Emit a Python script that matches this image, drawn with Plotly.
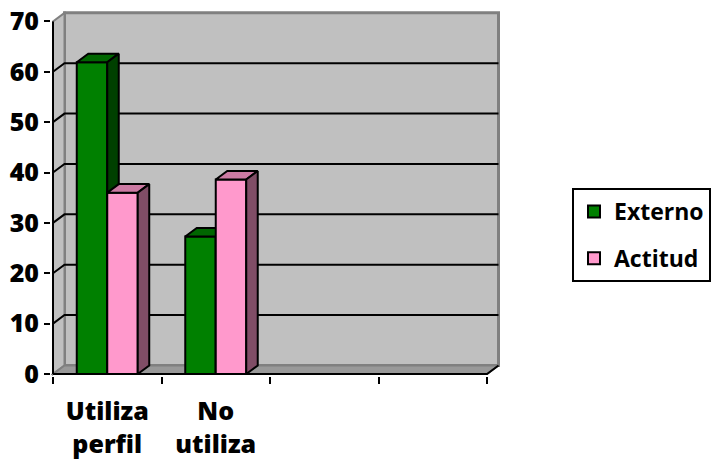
import plotly.graph_objects as go

# ---- data ----
categories = ["Utiliza perfil", "No utiliza", "", ""]
tick_labels = ["Utiliza<br>perfil", "No<br>utiliza", "", ""]
externo = [61.9, 27.3, None, None]
actitud = [36.0, 38.6, None, None]
y_ticks = [0, 10, 20, 30, 40, 50, 60, 70]

# ---- style / geometry ----
FONT = dict(family="Open Sans", size=25, color="black", weight=800)
LEGEND_FONT = dict(family="Open Sans", size=23, color="black", weight=700)
DEPTH_X = 0.106          # depth offset of the 3-D box, category units
DEPTH_Y = 1.7            # depth offset of the 3-D box, value units
BAR_W = 0.281            # width of one bar, category units
WALL = "#c0c0c0"
WALL_EDGE = "#808080"
FLOOR = "#999999"
GREEN = dict(front="#008000", top="#006600", side="#004000")
PINK = dict(front="#ff99cc", top="#cc7aa3", side="#804d66")

W, H = 712, 466
M_L, M_R, M_T, M_B = 51, 212, 11, 90
PX_X, PX_Y = 108.5, 5.037  # pixels per unit on each axis
plot_w = W - M_L - M_R
plot_h = H - M_T - M_B
x_range = [-2 / PX_X, (plot_w - 2) / PX_X]
y_range = [-2 / PX_Y, (plot_h - 2) / PX_Y]

n_cat = len(categories)
centers = [i + 0.5 for i in range(n_cat)]
y_max = y_ticks[-1]


def faces(values, offset):
    """Top and side faces of the 3-D columns, as closed polygons."""
    tx, ty, sx, sy = [], [], [], []
    for c, v in zip(centers, values):
        if v is None:
            continue
        xl = c + offset
        xr = xl + BAR_W
        tx += [xl, xr, xr + DEPTH_X, xl + DEPTH_X, xl, None]
        ty += [v, v, v + DEPTH_Y, v + DEPTH_Y, v, None]
        sx += [xr, xr, xr + DEPTH_X, xr + DEPTH_X, xr, None]
        sy += [0, v, v + DEPTH_Y, DEPTH_Y, 0, None]
    return (tx, ty), (sx, sy)


fig = go.Figure()


def add_series(name, values, offset, colors, xa, ya, group):
    fig.add_trace(go.Bar(
        x=centers, y=values, width=BAR_W, offset=offset, name=name,
        marker=dict(color=colors["front"], line=dict(color="black", width=2)),
        xaxis=xa, yaxis=ya, legendgroup=group,
    ))
    (tx, ty), (sx, sy) = faces(values, offset)
    for (px, py), col in (((tx, ty), colors["top"]), ((sx, sy), colors["side"])):
        fig.add_trace(go.Scatter(
            x=px, y=py, mode="lines", fill="toself", fillcolor=col,
            line=dict(color="black", width=2), showlegend=False,
            hoverinfo="skip", xaxis=xa, yaxis=ya, legendgroup=group,
        ))


# Externo on the base subplot, Actitud on an overlay so it sits in front
add_series("Externo", externo, -BAR_W, GREEN, "x", "y", "g1")
add_series("Actitud", actitud, 0.0, PINK, "x2", "y2", "g2")

# ---- 3-D box: back wall, side wall, floor, gridlines ----
shapes = []
x_end = n_cat
shapes.append(dict(type="rect", xref="x", yref="y", layer="below",
                   x0=DEPTH_X, x1=x_end + DEPTH_X, y0=DEPTH_Y, y1=y_max + DEPTH_Y,
                   fillcolor=WALL, line=dict(color=WALL_EDGE, width=3)))
shapes.append(dict(type="path", xref="x", yref="y", layer="below",
                   path=f"M0,0 L0,{y_max} L{DEPTH_X},{y_max + DEPTH_Y} L{DEPTH_X},{DEPTH_Y} Z",
                   fillcolor=WALL, line=dict(color=WALL_EDGE, width=2)))
shapes.append(dict(type="path", xref="x", yref="y", layer="below",
                   path=f"M0,0 L{x_end},0 L{x_end + DEPTH_X},{DEPTH_Y} L{DEPTH_X},{DEPTH_Y} Z",
                   fillcolor=FLOOR, line=dict(color=WALL_EDGE, width=2)))
for t in y_ticks[1:-1]:
    shapes.append(dict(type="path", xref="x", yref="y", layer="below",
                       path=f"M0,{t} L{DEPTH_X},{t + DEPTH_Y} L{x_end + DEPTH_X},{t + DEPTH_Y}",
                       line=dict(color="black", width=2)))
# front axis lines
shapes.append(dict(type="line", xref="x", yref="y", layer="below",
                   x0=0, x1=0, y0=0, y1=y_max, line=dict(color="black", width=2)))
shapes.append(dict(type="path", xref="x", yref="y", layer="below",
                   path=f"M0,0 L{x_end},0 L{x_end + DEPTH_X},{DEPTH_Y}",
                   line=dict(color="black", width=2)))

fig.update_layout(
    width=W, height=H,
    margin=dict(l=M_L, r=M_R, t=M_T, b=M_B, pad=0, autoexpand=False),
    paper_bgcolor="white", plot_bgcolor="rgba(0,0,0,0)",
    barmode="overlay",
    font=FONT,
    shapes=shapes,
    showlegend=True,
    legend=dict(
        x=(572 - M_L) / plot_w, y=(H - M_B - 188) / plot_h,
        xanchor="left", yanchor="top",
        bordercolor="black", borderwidth=2, bgcolor="white",
        font=LEGEND_FONT, traceorder="grouped", tracegroupgap=14,
    ),
    xaxis=dict(
        range=x_range, showgrid=False, zeroline=False, showline=False,
        automargin=False,
        tickmode="array", tickvals=centers, ticktext=tick_labels, ticks="",
        tickfont=FONT, ticklabelstandoff=18,
        minor=dict(ticks="outside", tickmode="array", tickvals=list(range(n_cat + 1)),
                   ticklen=7, tickwidth=2, tickcolor="black", showgrid=False),
    ),
    yaxis=dict(
        range=y_range, showgrid=False, zeroline=False, showline=False,
        automargin=False,
        tickmode="array", tickvals=y_ticks, ticks="outside", ticklen=6,
        tickwidth=2, tickcolor="black", tickfont=FONT,
    ),
    xaxis2=dict(overlaying="x", matches="x", visible=False),
    yaxis2=dict(overlaying="y", matches="y", visible=False),
)

fig.write_html("out.html")
